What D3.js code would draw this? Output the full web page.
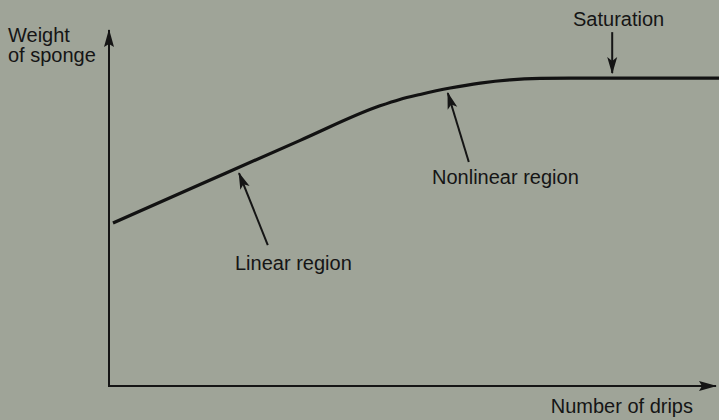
<!DOCTYPE html>
<html>
<head>
<meta charset="utf-8">
<script src="https://cdn.jsdelivr.net/npm/d3@7"></script>
<style>
  body { margin: 0; background: #9fa498; }
  svg { display: block; }
  text { font-family: "Liberation Sans", Arial, sans-serif; font-size: 20px; fill: #151515; }
</style>
</head>
<body>
<script>
// curve: number of drips vs weight of sponge (arbitrary units)
var drips   = [0.5, 15, 31.7, 45, 48.3, 51.7, 56.7, 61.7, 66.7, 71.7, 76.7, 102];
var weights = [45.8, 56.6, 69.0, 78.7, 80.5, 81.9, 83.7, 85.1, 86.0, 86.4, 86.5, 86.5];

// annotation labels and the points their arrows run between (data units)
var notes = ["Linear region", "Nonlinear region", "Saturation"];
var noteFrom = [[26.3, 39.6], [59.8, 62.9], [83.7, 99.4]];
var noteTo   = [[21.5, 59.8], [56.3, 82.3], [83.7, 87.9]];

var w = 719;
var h = 420;

var xScale = d3.scaleLinear().domain([0, 101]).range([110, 716]);
var yScale = d3.scaleLinear().domain([0, 100]).range([386, 30]);

var svg = d3.select("body").append("svg")
    .attr("width", w)
    .attr("height", h);

var defs = svg.append("defs");
defs.append("marker")
    .attr("id", "axisHead")
    .attr("markerUnits", "userSpaceOnUse")
    .attr("viewBox", "0 -6 18 12")
    .attr("refX", 17).attr("refY", 0)
    .attr("markerWidth", 18).attr("markerHeight", 12)
    .attr("orient", "auto")
    .append("path")
    .attr("d", "M0,-5L18,0L0,5L3,0Z")
    .attr("fill", "#151515");
defs.append("marker")
    .attr("id", "noteHead")
    .attr("markerUnits", "userSpaceOnUse")
    .attr("viewBox", "0 -6 17 12")
    .attr("refX", 16).attr("refY", 0)
    .attr("markerWidth", 17).attr("markerHeight", 12)
    .attr("orient", "auto")
    .append("path")
    .attr("d", "M0,-5L17,0L0,5L4,0Z")
    .attr("fill", "#151515");

// axes
svg.append("line")
    .attr("x1", xScale(0) - 1).attr("y1", yScale(0))
    .attr("x2", xScale(0) - 1).attr("y2", yScale(100))
    .attr("stroke", "#151515").attr("stroke-width", 2)
    .attr("marker-end", "url(#axisHead)");
svg.append("line")
    .attr("x1", xScale(0) - 2).attr("y1", yScale(0))
    .attr("x2", xScale(101)).attr("y2", yScale(0))
    .attr("stroke", "#151515").attr("stroke-width", 2.2)
    .attr("marker-end", "url(#axisHead)");

// the curve
var line = d3.line()
    .x(function(d, i) { return xScale(drips[i]); })
    .y(function(d) { return yScale(d); })
    .curve(d3.curveMonotoneX);

svg.append("path")
    .datum(weights)
    .attr("d", line)
    .attr("fill", "none")
    .attr("stroke", "#121212")
    .attr("stroke-width", 3.2)
    .attr("stroke-linecap", "butt");

// annotation arrows
svg.selectAll(".note")
    .data(notes)
    .enter()
    .append("line")
    .attr("class", "note")
    .attr("x1", function(d, i) { return xScale(noteFrom[i][0]); })
    .attr("y1", function(d, i) { return yScale(noteFrom[i][1]); })
    .attr("x2", function(d, i) { return xScale(noteTo[i][0]); })
    .attr("y2", function(d, i) { return yScale(noteTo[i][1]); })
    .attr("stroke", "#151515")
    .attr("stroke-width", 2)
    .attr("marker-end", "url(#noteHead)");

// labels
var labelPos = [[235, 270], [432, 184], [573, 26]];
svg.selectAll(".label")
    .data(notes)
    .enter()
    .append("text")
    .attr("class", "label")
    .attr("x", function(d, i) { return labelPos[i][0]; })
    .attr("y", function(d, i) { return labelPos[i][1]; })
    .text(function(d) { return d; });

var yTitle = svg.append("text").attr("x", 8).attr("y", 42);
yTitle.append("tspan").attr("x", 8).text("Weight");
yTitle.append("tspan").attr("x", 8).attr("dy", 20).text("of sponge");

svg.append("text")
    .attr("x", 693).attr("y", 413)
    .attr("text-anchor", "end")
    .text("Number of drips");
</script>
</body>
</html>
